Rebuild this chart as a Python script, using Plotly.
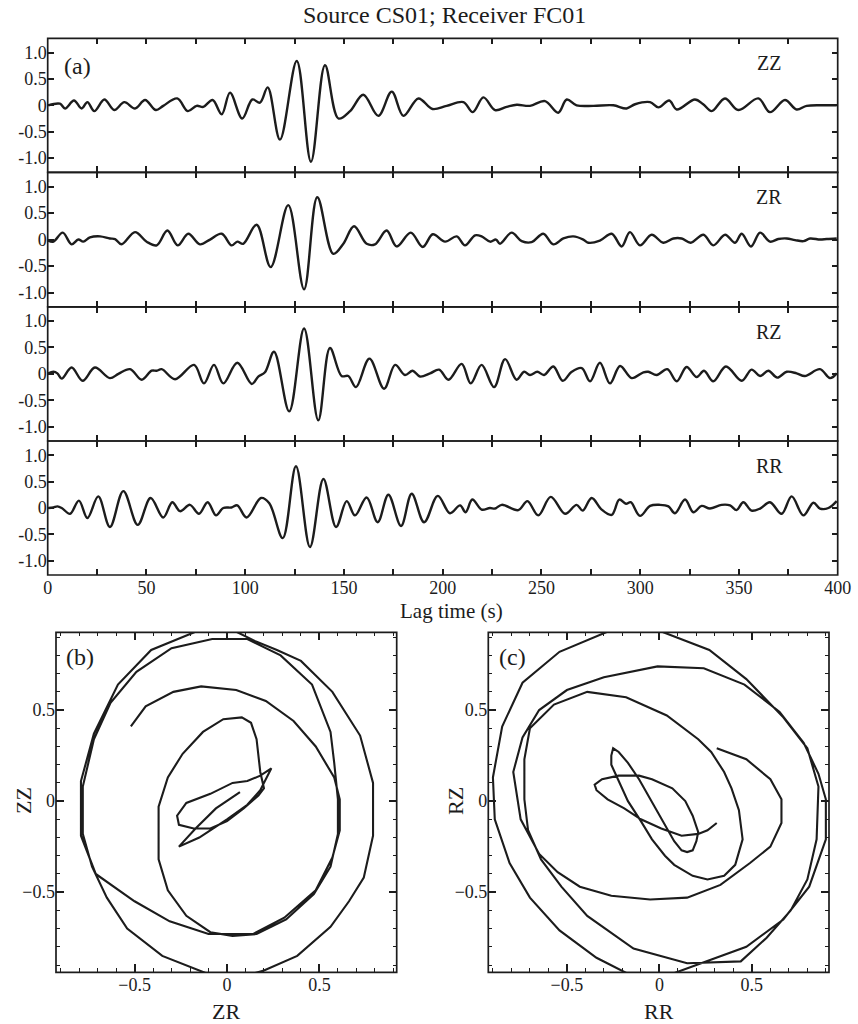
import plotly.graph_objects as go

# ---------------------------------------------------------------------------
# Cross-correlation waveforms: lag time (s) at each turning point and the
# normalised amplitude there.  Lines are drawn through them as smooth splines.
# ---------------------------------------------------------------------------
t_zz = [0.3, 6.2, 8.8, 13.3, 17.2, 20.1, 23.6, 28.7, 33.7, 38.8, 44.2, 49.3, 54.8, 58.5,
        65.6, 70.9, 75.4, 78.8, 83.5, 88.1, 92.3, 98.5, 103.6, 107.5, 111.4, 117.6, 126.1,
        133.3, 140.4, 147.2, 153.1, 159.8, 167.4, 174.2, 180.1, 187.7, 194.8, 202.0, 210.5,
        215.2, 220.6, 226.5, 232.4, 237.5, 244.2, 251.8, 258.5, 262.8, 267.8, 276.3, 286.4,
        293.1, 297.4, 305.0, 309.2, 314.7, 318.5, 327.7, 331.9, 336.2, 342.9, 349.7, 359.8,
        365.7, 373.3, 379.2, 384.3, 393.6, 399.5]
zz = [0.00, 0.03, -0.06, 0.09, -0.06, 0.06, -0.11, 0.11, -0.09, 0.06, -0.06, 0.10, -0.09, -0.01,
      0.13, -0.11, -0.01, -0.03, 0.10, -0.17, 0.24, -0.25, 0.11, 0.05, 0.34, -0.65, 0.84,
      -1.07, 0.76, -0.25, -0.11, 0.20, -0.20, 0.26, -0.20, 0.13, -0.07, -0.01, 0.06,
      -0.13, 0.15, -0.09, -0.03, 0.01, -0.01, 0.08, -0.14, 0.11, 0.00, -0.01, 0.00,
      -0.06, 0.02, 0.06, -0.04, 0.09, -0.08, 0.11, 0.02, -0.11, 0.13, -0.09, 0.13,
      -0.13, 0.10, -0.08, -0.01, 0.00, 0.00]

t_zr = [0.3, 2.9, 7.6, 12.1, 15.5, 18.0, 21.4, 26.5, 31.5, 34.1, 37.4, 44.2, 50.1, 55.2, 60.6,
        65.8, 71.2, 77.1, 82.2, 88.1, 93.1, 96.0, 99.0, 105.8, 112.9, 121.8, 129.8, 136.5,
        144.6, 149.7, 155.1, 161.5, 165.7, 171.6, 176.7, 183.8, 189.9, 195.0, 201.2, 207.1,
        211.3, 216.4, 219.7, 224.0, 227.0, 229.0, 234.9, 240.0, 245.0, 250.9, 256.0, 261.1,
        266.1, 271.2, 273.7, 279.6, 285.6, 290.6, 294.8, 299.9, 305.8, 311.7, 316.8, 321.0,
        325.6, 332.0, 337.0, 343.0, 348.0, 351.4, 356.1, 360.7, 365.7, 369.9, 374.2, 378.4,
        382.7, 386.0, 391.1, 394.5, 399.5]
zr = [-0.02, -0.04, 0.13, -0.09, 0.00, -0.04, 0.04, 0.06, 0.02, 0.01, -0.09, 0.14, -0.04, -0.11,
      0.17, -0.11, 0.11, -0.09, 0.00, 0.11, -0.11, -0.04, -0.08, 0.28, -0.52, 0.65, -0.94, 0.80,
      -0.27, -0.08, 0.25, -0.08, -0.09, 0.17, -0.13, 0.13, -0.14, 0.10, -0.04, 0.06,
      -0.11, 0.08, 0.06, -0.04, 0.00, -0.08, 0.13, -0.03, -0.05, 0.11, -0.09, 0.02,
      0.06, 0.00, -0.06, -0.02, 0.11, -0.13, 0.14, -0.11, 0.09, -0.06, 0.02, 0.02,
      -0.06, 0.09, -0.11, 0.09, -0.06, 0.11, -0.13, 0.13, -0.04, 0.01, 0.02, -0.01,
      -0.03, 0.02, 0.00, 0.01, 0.02]

t_rz = [0.3, 2.9, 4.9, 7.1, 12.1, 17.7, 23.9, 31.5, 35.8, 41.7, 47.6, 52.6, 55.2, 57.7, 64.5,
        74.1, 79.1, 84.2, 88.9, 96.0, 103.3, 106.6, 110.0, 114.6, 122.3, 129.8, 137.0, 142.9,
        148.8, 152.2, 156.1, 162.9, 170.3, 175.9, 180.9, 184.8, 188.5, 193.6, 198.2, 202.9,
        209.6, 214.2, 219.7, 226.0, 231.6, 237.4, 241.2, 244.2, 247.9, 251.3, 256.0, 260.8,
        265.3, 270.4, 274.6, 279.6, 284.7, 289.8, 295.7, 301.6, 304.1, 308.4, 313.7, 318.5,
        323.5, 328.6, 332.3, 337.0, 343.4, 351.4, 356.4, 360.7, 364.9, 369.4, 374.2, 379.2,
        383.4, 391.0, 396.1, 399.5]
rz = [0.01, 0.04, 0.01, -0.09, 0.12, -0.13, 0.12, -0.08, 0.00, 0.09, -0.11, 0.06, 0.06, 0.09, -0.10,
      0.17, -0.18, 0.17, -0.18, 0.21, -0.19, -0.05, 0.03, 0.42, -0.71, 0.86, -0.88, 0.49,
      -0.04, -0.04, -0.25, 0.29, -0.28, 0.17, -0.02, 0.06, -0.05, 0.01, 0.08, -0.11,
      0.19, -0.18, 0.17, -0.25, 0.28, -0.11, 0.04, -0.02, 0.04, -0.02, 0.14, -0.13,
      0.04, 0.11, -0.14, 0.21, -0.18, 0.15, -0.08, 0.03, 0.04, -0.02, 0.09, -0.14,
      0.13, -0.06, 0.06, -0.14, 0.14, -0.13, 0.08, -0.04, 0.06, -0.07, 0.04, 0.01,
      -0.04, 0.09, -0.08, 0.01]

t_rr = [0.3, 2.9, 4.9, 7.1, 11.3, 15.8, 20.1, 25.6, 31.5, 38.3, 45.6, 52.1, 58.5, 63.1, 67.0,
        72.0, 76.6, 81.0, 85.2, 88.9, 93.1, 96.0, 100.7, 108.0, 112.2, 119.0, 125.7, 132.8,
        139.6, 146.0, 151.4, 155.6, 161.5, 167.1, 172.5, 178.9, 184.3, 190.6, 197.5, 203.7,
        208.8, 211.6, 215.0, 219.7, 223.9, 226.5, 229.9, 238.3, 242.9, 248.4, 254.7, 262.0,
        267.8, 270.9, 275.4, 280.5, 285.6, 289.4, 292.8, 295.2, 299.9, 305.0, 310.0, 314.3,
        317.6, 322.7, 326.9, 331.1, 335.3, 341.2, 345.5, 348.8, 352.2, 356.4, 360.7, 365.7,
        371.6, 376.7, 382.6, 387.7, 391.0, 395.3, 399.5]
rr = [0.00, 0.01, 0.03, 0.00, -0.11, 0.14, -0.19, 0.22, -0.36, 0.32, -0.32, 0.19, -0.18, 0.11, -0.06,
      0.06, -0.11, 0.11, -0.14, 0.00, 0.01, 0.05, -0.18, 0.19, 0.09, -0.57, 0.79, -0.74,
      0.55, -0.36, 0.13, -0.14, 0.20, -0.27, 0.25, -0.34, 0.27, -0.27, 0.23, -0.10,
      0.05, -0.08, 0.16, -0.03, 0.00, -0.01, 0.06, -0.04, 0.13, -0.14, 0.21, -0.11,
      0.06, -0.05, 0.19, -0.03, -0.13, 0.16, 0.08, 0.11, -0.15, 0.04, 0.06, 0.03,
      -0.10, 0.16, -0.08, 0.04, -0.01, 0.06, 0.05, -0.04, 0.11, -0.05, -0.01, 0.11,
      -0.11, 0.22, -0.14, 0.10, -0.01, 0.00, 0.13]

# ---------------------------------------------------------------------------
# Particle motion around the main arrival (polyline vertices, time-ordered)
# ---------------------------------------------------------------------------
pm_b_zr = [0.07, -0.06, -0.17, -0.26, -0.15, 0.00, 0.11, 0.18, 0.24, 0.18, 0.11, 0.03, -0.09, -0.22,
           -0.27, -0.26, -0.18, -0.09, 0.00, 0.09, 0.17, 0.20, 0.18, 0.17, 0.16, 0.13, 0.08, -0.02,
           -0.13, -0.24, -0.32, -0.37, -0.37, -0.37, -0.32, -0.22, -0.09, 0.03, 0.16, 0.32, 0.47,
           0.56, 0.60, 0.60, 0.58, 0.56, 0.46, 0.29, 0.11, -0.08,
           -0.30, -0.49, -0.63, -0.72, -0.78, -0.78, -0.73, -0.65, -0.54, -0.35, 0.00, 0.20, 0.38,
           0.56, 0.66, 0.74, 0.79, 0.79, 0.72, 0.57, 0.40, 0.27, 0.15, -0.05,
           -0.41, -0.59, -0.72, -0.79, -0.79, -0.71, -0.50, -0.31, -0.10, 0.14, 0.31, 0.48, 0.57,
           0.61, 0.61, 0.58, 0.48, 0.36, 0.21, 0.05, -0.14, -0.29, -0.44, -0.52]
pm_b_zz = [0.05, -0.04, -0.15, -0.25, -0.20, -0.10, -0.02, 0.06, 0.18, 0.14, 0.11, 0.10, 0.04, -0.01,
           -0.08, -0.13, -0.15, -0.15, -0.11, -0.04, 0.03, 0.07, 0.16, 0.25, 0.34, 0.43, 0.46, 0.45,
           0.38, 0.26, 0.13, -0.03, -0.18, -0.32, -0.49, -0.63, -0.72, -0.74, -0.73, -0.65, -0.51,
           -0.36, -0.18, 0.01, 0.21, 0.38, 0.64, 0.80, 0.89, 0.89,
           0.84, 0.71, 0.54, 0.34, 0.08, -0.18, -0.36, -0.53, -0.70, -0.85, -0.99, -0.93, -0.85,
           -0.69, -0.55, -0.42, -0.19, 0.10, 0.36, 0.60, 0.77, 0.83, 0.88, 0.98,
           0.83, 0.64, 0.37, 0.11, -0.19, -0.40, -0.55, -0.66, -0.73, -0.73, -0.64, -0.49, -0.31,
           -0.16, 0.01, 0.13, 0.30, 0.44, 0.55, 0.61, 0.63, 0.60, 0.52, 0.41]

pm_c_rr = [0.31, 0.26, 0.21, 0.12, 0.01, -0.10, -0.19, -0.28, -0.34, -0.35, -0.31, -0.22, -0.11, -0.04,
           0.07, 0.14, 0.18, 0.21, 0.20, 0.18, 0.15, 0.12, 0.08, 0.03, -0.04, -0.11, -0.17, -0.22,
           -0.25, -0.26, -0.26, -0.22, -0.17, -0.10, -0.04, 0.03, 0.08,
           0.18, 0.26, 0.35, 0.41, 0.45, 0.43, 0.39, 0.35, 0.28, 0.21, 0.04, -0.18, -0.39, -0.57,
           -0.70, -0.73, -0.73, -0.71, -0.64, -0.53, -0.39, -0.14, 0.15, 0.44, 0.58, 0.71, 0.80,
           0.85, 0.86, 0.80, 0.67, 0.47, 0.27, -0.14, -0.54, -0.74, -0.85, -0.90, -0.89, -0.81,
           -0.70, -0.54, -0.34, -0.07, 0.20, 0.47, 0.67, 0.81, 0.90, 0.90, 0.86, 0.78, 0.65, 0.46,
           0.24, -0.01, -0.30, -0.50, -0.65, -0.74, -0.79, -0.75, -0.65, -0.55, -0.43, -0.26,
           -0.05, 0.15, 0.33, 0.49, 0.60, 0.66, 0.66, 0.60, 0.47, 0.31]
pm_c_rz = [-0.12, -0.16, -0.18, -0.19, -0.15, -0.10, -0.04, 0.01, 0.06, 0.09, 0.12, 0.14, 0.14, 0.12,
           0.07, 0.00, -0.08, -0.17, -0.22, -0.27, -0.28, -0.27, -0.22, -0.13, 0.00, 0.12, 0.21,
           0.27, 0.29, 0.25, 0.20, 0.11, 0.00, -0.11, -0.21, -0.30, -0.35,
           -0.41, -0.43, -0.41, -0.35, -0.21, -0.05, 0.07, 0.16, 0.27, 0.34, 0.47, 0.57, 0.60, 0.53,
           0.40, 0.23, 0.01, -0.16, -0.32, -0.47, -0.63, -0.81, -0.89, -0.88, -0.75, -0.60, -0.43,
           -0.21, 0.08, 0.29, 0.46, 0.67, 0.83, 0.99, 0.82, 0.65, 0.41, 0.13, -0.10, -0.34,
           -0.53, -0.71, -0.86, -1.00, -0.90, -0.80, -0.65, -0.47, -0.21, 0.01, 0.15, 0.32, 0.49,
           0.64, 0.73, 0.74, 0.68, 0.61, 0.50, 0.35, 0.16, -0.10, -0.29, -0.39, -0.47, -0.52,
           -0.54, -0.53, -0.46, -0.34, -0.25, -0.12, 0.01, 0.12, 0.23, 0.29]

wave_names = ["ZZ", "ZR", "RZ", "RR"]
lag_ticks = list(range(0, 401, 25))
lag_labels = [str(v) if v % 50 == 0 else "" for v in lag_ticks]
amp_ticks = [-1.0, -0.5, 0.0, 0.5, 1.0]
amp_labels = ["-1.0", "-0.5", "0", "0.5", "1.0"]

# ---------------------------------------------------------------------------
# Layout geometry (page pixels -> paper fractions)
# ---------------------------------------------------------------------------
W, H = 858, 1024
INK = "#1c1c1c"
SERIF = "Liberation Serif, serif"
LW = 1.7  # frame line width


def fx(p):
    return p / W


def fy(p):
    return 1 - p / H


A_LEFT, A_RIGHT = 47.7, 837.7
A_ROWS = [38.3, 172.3, 306.8, 441.0, 575.0]
PM_TOP, PM_BOTTOM = 632.3, 972.3
B_LEFT, B_RIGHT = 56.0, 396.7
C_LEFT, C_RIGHT = 488.3, 829.0

# axis lines are replaced by frame rectangles so stacked panels share one border
axis_base = dict(showline=False, mirror="ticks", ticks="inside",
                 tickcolor=INK, tickwidth=1.5, showgrid=False, zeroline=False,
                 tickfont=dict(family=SERIF, size=18, color=INK))

fig = go.Figure()
layout = {}
annotations = []
shapes = []


def frame_box(left, right, top, bottom):
    shapes.append(dict(type="rect", xref="paper", yref="paper",
                       x0=fx(left), x1=fx(right), y0=fy(bottom), y1=fy(top),
                       line=dict(color=INK, width=LW), fillcolor="rgba(0,0,0,0)", layer="above"))


wave_t = [t_zz, t_zr, t_rz, t_rr]
wave_v = [zz, zr, rz, rr]
for i in range(4):
    n = i + 1
    xa = "x" if n == 1 else f"x{n}"
    ya = "y" if n == 1 else f"y{n}"
    fig.add_trace(go.Scatter(x=wave_t[i], y=wave_v[i], mode="lines", name=wave_names[i],
                             line=dict(color=INK, width=2.4, shape="spline", smoothing=1.0),
                             xaxis=xa, yaxis=ya, hoverinfo="skip"))
    top, bottom = A_ROWS[i], A_ROWS[i + 1]
    layout["xaxis" if n == 1 else f"xaxis{n}"] = dict(
        axis_base, domain=[fx(A_LEFT), fx(A_RIGHT)], range=[0, 400], anchor=ya,
        tickmode="array", tickvals=lag_ticks, ticktext=lag_labels, ticklen=6,
        showticklabels=(n == 4))
    layout["yaxis" if n == 1 else f"yaxis{n}"] = dict(
        axis_base, domain=[fy(bottom), fy(top)], range=[-1.27, 1.27], anchor=xa,
        tickmode="array", tickvals=amp_ticks, ticktext=amp_labels, ticklen=6)
    frame_box(A_LEFT, A_RIGHT, top, bottom)
    annotations.append(dict(text=wave_names[i], x=fx(769), y=fy(top + 25), xref="paper",
                            yref="paper", showarrow=False, xanchor="center", yanchor="middle",
                            font=dict(family=SERIF, size=20, color=INK)))

pm_axis = dict(axis_base, tickmode="linear", tick0=0, dtick=0.5, ticklen=8,
               minor=dict(ticks="inside", tick0=0, dtick=0.1, ticklen=4,
                          tickcolor=INK, tickwidth=1.2, showgrid=False))

fig.add_trace(go.Scatter(x=pm_b_zr, y=pm_b_zz, mode="lines", line=dict(color=INK, width=2.1),
                         xaxis="x5", yaxis="y5", hoverinfo="skip"))
fig.add_trace(go.Scatter(x=pm_c_rr, y=pm_c_rz, mode="lines", line=dict(color=INK, width=2.1),
                         xaxis="x6", yaxis="y6", hoverinfo="skip"))

layout["xaxis5"] = dict(pm_axis, domain=[fx(B_LEFT), fx(B_RIGHT)], range=[-0.925, 0.918], anchor="y5")
layout["yaxis5"] = dict(pm_axis, domain=[fy(PM_BOTTOM), fy(PM_TOP)], range=[-0.94, 0.927], anchor="x5")
layout["xaxis6"] = dict(pm_axis, domain=[fx(C_LEFT), fx(C_RIGHT)], range=[-0.925, 0.917], anchor="y6")
layout["yaxis6"] = dict(pm_axis, domain=[fy(PM_BOTTOM), fy(PM_TOP)], range=[-0.94, 0.927], anchor="x6")
frame_box(B_LEFT, B_RIGHT, PM_TOP, PM_BOTTOM)
frame_box(C_LEFT, C_RIGHT, PM_TOP, PM_BOTTOM)


def label(text, px, py, size, anchor="center", angle=0):
    annotations.append(dict(text=text, x=fx(px), y=fy(py), xref="paper", yref="paper",
                            showarrow=False, xanchor=anchor, yanchor="middle", textangle=angle,
                            font=dict(family=SERIF, size=size, color=INK)))


label("Source CS01; Receiver FC01", (A_LEFT + A_RIGHT) / 2 + 2, 15, 24)
label("(a)", 62, 66, 24, anchor="left")
label("Lag time (s)", 451, 611, 21)
label("(b)", 64, 657, 24, anchor="left")
label("(c)", 497, 657, 24, anchor="left")
label("ZR", (B_LEFT + B_RIGHT) / 2, 1011, 22)
label("ZZ", 23, 801, 22, angle=-90)
label("RR", (C_LEFT + C_RIGHT) / 2, 1011, 22)
label("RZ", 455, 801, 22, angle=-90)

fig.update_layout(width=W, height=H,
                  margin=dict(l=0, r=0, t=0, b=0, pad=0, autoexpand=False),
                  paper_bgcolor="white", plot_bgcolor="white", showlegend=False,
                  annotations=annotations, shapes=shapes, **layout)

fig.write_html("out.html", config={"responsive": False, "displayModeBar": False})
